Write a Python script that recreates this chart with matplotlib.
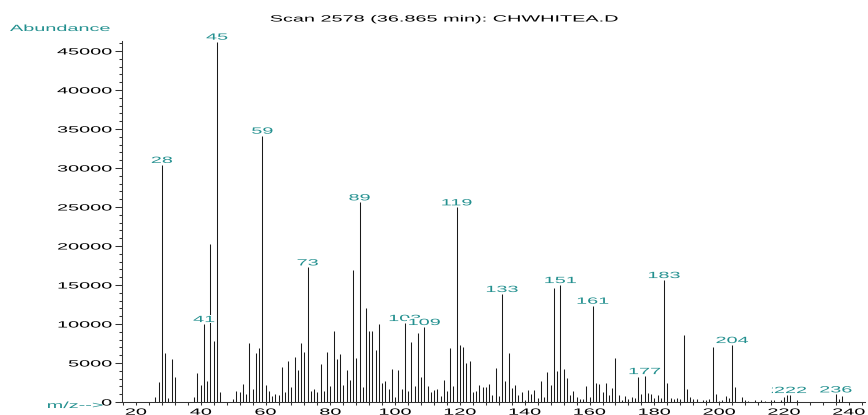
import matplotlib
matplotlib.use("Agg")
import matplotlib.pyplot as plt
from matplotlib.patheffects import AbstractPathEffect
from matplotlib.transforms import Affine2D
from matplotlib.path import Path
from matplotlib.ticker import MultipleLocator

# ---- spectrum data: m/z and abundance ----
mz = [26, 27, 28, 29, 30, 31, 32, 38, 39, 40, 41, 42, 43, 44, 45, 46,
      50, 51, 52, 53, 54, 55, 56, 57, 58, 59, 60, 61, 62, 63, 64, 65,
      66, 67, 68, 69, 70, 71, 72, 73, 74, 75, 76, 77, 78, 79, 80, 81,
      82, 83, 84, 85, 86, 87, 88, 89, 90, 91, 92, 93, 94, 95, 96, 97,
      98, 99, 100, 101, 102, 103, 104, 105, 106, 107, 108, 109, 110, 111, 112, 113,
      114, 115, 116, 117, 118, 119, 120, 121, 122, 123, 124, 125, 126, 127, 128, 129,
      130, 131, 132, 133, 134, 135, 136, 137, 138, 139, 140, 141, 142, 143, 144, 145,
      146, 147, 148, 149, 150, 151, 152, 153, 154, 155, 156, 157, 158, 159, 160, 161,
      162, 163, 164, 165, 166, 167, 168, 169, 170, 171, 172, 173, 174, 175, 176, 177,
      178, 179, 180, 181, 182, 183, 184, 185, 186, 187, 188, 189, 190, 191, 192, 193,
      195, 196, 197, 198, 199, 200, 201, 202, 203, 204, 205, 207, 208, 209, 211, 213,
      214, 216, 217, 219, 220, 221, 222, 224, 236, 237, 238]

abundance = [700, 2500, 30400, 6280, 500, 5470, 3250, 600, 3680, 2140, 10000, 2650, 20200, 7820, 46200, 1240,
             380, 1410, 1320, 2310, 980, 7520, 1670, 6240, 6880, 34150, 2140, 1410, 730, 1020, 960, 4530,
             1320, 5260, 1920, 5770, 4100, 7560, 6410, 17260, 1370, 1670, 1320, 4920, 1450, 6410, 2010, 9150,
             5510, 6150, 2180, 4150, 2780, 16920, 5600, 25600, 1880, 12010, 9100, 9150, 6670, 9950, 2440, 2690,
             1710, 4280, 600, 4150, 1670, 10130, 1370, 7690, 2010, 8800, 3200, 9620, 2050, 1320, 1540, 1620,
             770, 2820, 1370, 6920, 2050, 24960, 7260, 7010, 5000, 5210, 1320, 1410, 2140, 1970, 1920, 2270,
             850, 4320, 730, 13850, 2690, 6320, 1750, 2180, 900, 1280, 260, 1540, 1020, 1540, 500, 2690,
             680, 3850, 2180, 14660, 4000, 15000, 4280, 3140, 850, 1370, 600, 430, 380, 2050, 600, 12350,
             2440, 2310, 1280, 2440, 850, 1790, 5600, 900, 200, 730, 380, 640, 550, 3200, 980, 3330,
             1110, 1020, 470, 900, 550, 15640, 2390, 470, 430, 510, 340, 8590, 1670, 640, 380, 430,
             300, 300, 380, 7090, 1070, 130, 300, 770, 550, 7310, 1860, 600, 200, 130, 200, 200,
             170, 250, 250, 250, 600, 900, 900, 300, 980, 380, 770]

labelled_mz = [28, 41, 45, 59, 73, 89, 103, 109, 119, 133, 151, 161, 177, 183, 204, 221, 222, 236]

y_ticks = list(range(0, 45001, 5000))
x_ticks = list(range(20, 241, 20))

title = "Scan 2578 (36.865 min): CHWHITEA.D"
y_title = "Abundance"
x_title = "m/z-->"

TEAL = "#23908f"
INK = "#1a1a1a"
FS = 6.5          # font size in points
WIDE = 2.2        # horizontal glyph stretch of the instrument font

plt.rcParams["font.family"] = ["Liberation Sans", "DejaVu Sans"]


class Widen(AbstractPathEffect):
    """Draw text glyphs stretched horizontally about an anchor (0=left, 0.5=centre, 1=right)."""

    def __init__(self, anchor=0.5, sx=WIDE, background=None):
        super().__init__()
        self.anchor = anchor
        self.sx = sx
        self.background = background

    def draw_path(self, renderer, gc, tpath, affine, rgbFace=None):
        v = tpath.vertices
        c = tpath.codes
        if c is not None:
            v = v[c != Path.CLOSEPOLY]
        if len(v) == 0:
            renderer.draw_path(gc, tpath, affine, rgbFace)
            return
        x0, x1 = v[:, 0].min(), v[:, 0].max()
        y0, y1 = v[:, 1].min(), v[:, 1].max()
        a = x0 + self.anchor * (x1 - x0)
        t = Affine2D().translate(-a, 0).scale(self.sx, 1).translate(a, 0) + affine
        if self.background is not None:
            p = 0.12 * (y1 - y0)
            rect = Path([[x0 - p, y0 - p], [x1 + p, y0 - p], [x1 + p, y1 + p],
                         [x0 - p, y1 + p], [x0 - p, y0 - p]], closed=True)
            gc0 = renderer.new_gc()
            gc0.copy_properties(gc)
            gc0.set_linewidth(0)
            renderer.draw_path(gc0, rect, t, self.background)
            gc0.restore()
        renderer.draw_path(gc, tpath, t, rgbFace)


W, H = 868, 415
fig = plt.figure(figsize=(W / 100, H / 100), dpi=100)
ax = fig.add_axes([122 / W, 1 - 402 / H, (865 - 122) / W, (402 - 41) / H])

ax.vlines(mz, 0, abundance, colors=INK, linewidth=0.75)
ax.set_xlim(15.7, 245)
ax.set_ylim(0, 46280)

for side in ("top", "right"):
    ax.spines[side].set_visible(False)
for side in ("left", "bottom"):
    ax.spines[side].set_color("#333333")
    ax.spines[side].set_linewidth(0.75)

ax.set_yticks(y_ticks)
ax.set_yticklabels([str(v) for v in y_ticks])
ax.yaxis.set_minor_locator(MultipleLocator(1000))
ax.set_xticks(x_ticks)
ax.set_xticklabels([str(v) for v in x_ticks])
ax.xaxis.set_minor_locator(MultipleLocator(4))

ax.tick_params(axis="y", which="major", length=5.2, width=0.75, pad=2.2,
               labelsize=FS, color="#333333")
ax.tick_params(axis="y", which="minor", length=2.4, width=0.75, color="#333333")
ax.tick_params(axis="x", which="major", length=2.5, width=0.75, pad=1.6,
               labelsize=FS, color="#333333")
ax.tick_params(axis="x", which="minor", length=1.8, width=0.75, color="#333333")

for lbl in ax.get_yticklabels():
    lbl.set_path_effects([Widen(1.0)])
for lbl in ax.get_xticklabels():
    lbl.set_path_effects([Widen(0.5)])

# peak annotations; later labels paint over earlier ones
for m in labelled_mz:
    h = abundance[mz.index(m)]
    ax.annotate(str(m), (m, h), xytext=(0, 1.4), textcoords="offset points",
                ha="center", va="baseline", fontsize=FS, color=TEAL,
                annotation_clip=False,
                path_effects=[Widen(0.5, background=(1, 1, 1, 1))])

fig.text(444 / W, 1 - 19 / H, title, ha="center", va="center",
         fontsize=FS, color="black", path_effects=[Widen(0.5)])
fig.text(10 / W, 1 - 28.5 / H, y_title, ha="left", va="center",
         fontsize=FS, color=TEAL, path_effects=[Widen(0.0)])
fig.text(103 / W, 1 - 405.5 / H, x_title, ha="right", va="center",
         fontsize=FS, color=TEAL, path_effects=[Widen(1.0)])

fig.savefig("out.png", dpi=100)
